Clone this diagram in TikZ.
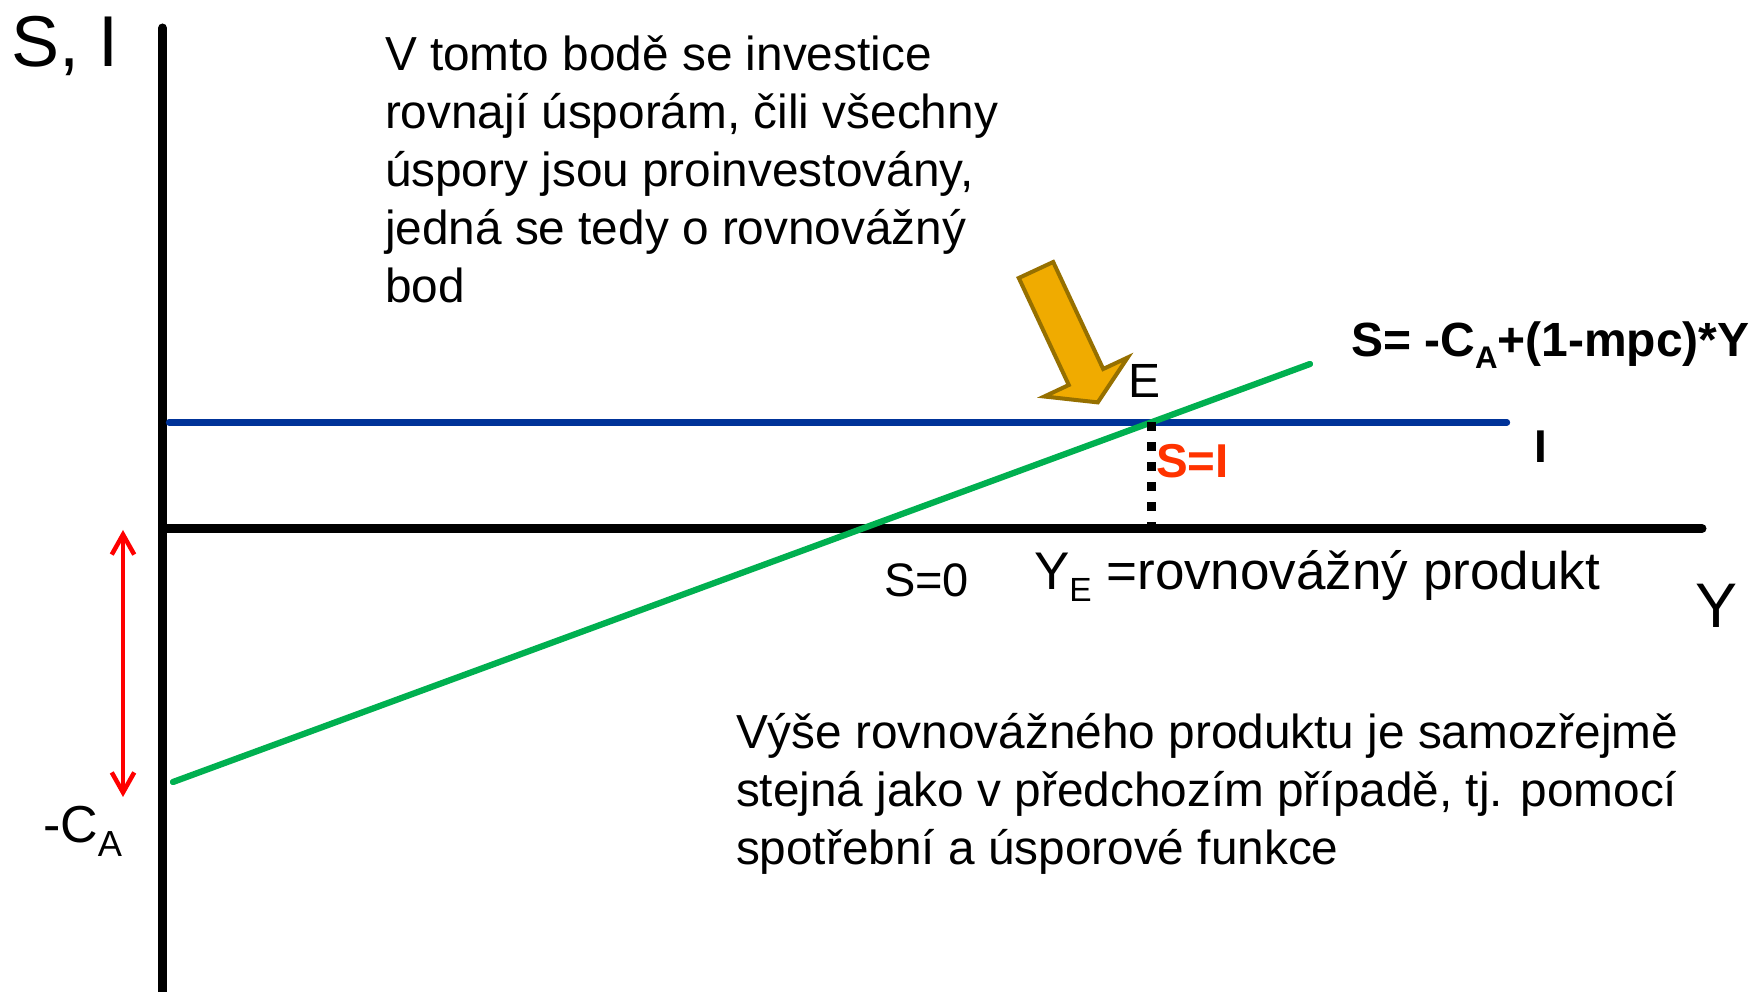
\documentclass[tikz,border=0pt]{standalone}
\usepackage{fontspec}
\setmainfont{Liberation Sans}
\usetikzlibrary{arrows.meta}
\definecolor{iblue}{RGB}{0,51,153}
\definecolor{sgreen}{RGB}{0,176,80}
\definecolor{cared}{RGB}{255,0,0}
\definecolor{sired}{RGB}{255,51,0}
\definecolor{arrfill}{RGB}{240,171,0}
\definecolor{arrdraw}{RGB}{150,112,0}
\newcommand{\fs}[2]{\fontsize{#1}{#2}\selectfont}
\newcommand{\lowsub}[3]{\raisebox{-#2}{\fs{#1}{#1}#3}}
\begin{document}
\begin{tikzpicture}[x=0.4pt,y=-0.4pt,
  lbl/.style={anchor=base west, inner sep=0pt, outer sep=0pt},
  axisline/.style={line width=3.6pt, line cap=round},
  curve/.style={line width=2.5pt, line cap=round}]
\fill[white] (0,0) rectangle (1756,992);
\useasboundingbox (0,0) rectangle (1756,992);

% coordinates
\coordinate (ytop) at (162.5,28);
\coordinate (ybot) at (162.5,1000);
\coordinate (xl) at (162.5,528.5);
\coordinate (xr) at (1702,528.5);
\coordinate (il) at (169,422.5);
\coordinate (ir) at (1507,422.5);
\coordinate (sl) at (173,782);
\coordinate (sr) at (1310,364);
\coordinate (E) at (1151.5,422.5);
\coordinate (YE) at (1151.5,528.5);
\coordinate (ca1) at (123,530);
\coordinate (ca2) at (123,797);

% axes
\draw[axisline] (ytop) -- (ybot);
\draw[axisline] (xl) -- (xr);

% lines
\draw[curve, iblue] (il) -- (ir);
\draw[curve, sgreen] (sl) -- (sr);
\draw[line width=3.6pt, dash pattern=on 3.6pt off 4.4pt] (E) -- (YE);

% red double arrow
\draw[cared, line width=1.8pt, {Straight Barb[length=8pt,width=9pt]}-{Straight Barb[length=8pt,width=9pt]}] (ca1) -- (ca2);

% yellow block arrow
\draw[fill=arrfill, draw=arrdraw, line width=1.6pt, line join=miter]
  (1018.8,278.0) -- (1053.2,262.0) -- (1103.2,369.0) -- (1127.7,357.5)
  -- (1097.8,402.4) -- (1044.3,396.5) -- (1068.8,385.0) -- cycle;

% labels
\node[lbl] (SI) at (11,67) {\fs{28.8}{30}S, I};
\node[lbl] (Y) at (1695,628) {\fs{25.2}{28}Y};
\node[lbl] (CA) at (43,843) {\fs{20.8}{24}-C\lowsub{14.5}{5.6pt}{A}};
\node[lbl] (Elbl) at (1128,398) {\fs{19.2}{22}E};
\node[lbl, text=sired] (SeqI) at (1156,478) {\fs{19}{22}\bfseries S=I};
\node[lbl] (Ilbl) at (1534,463) {\fs{18.4}{22}\bfseries I};
\node[lbl] (Sfun) at (1351,357) {\fs{19.2}{22}\bfseries S= -C\lowsub{12.5}{4.8pt}{\bfseries A}+(1-mpc)*Y};
\node[lbl] (S0) at (884,597) {\fs{18.8}{22}S=0};
\node[lbl] (YEl) at (1034,590) {\fs{21.2}{24}Y\lowsub{13.4}{4.8pt}{E} =rovnovážný produkt};

\node[lbl] (top) at (385,71) {\parbox[t]{700pt}{\fs{19.1}{23.2}%
V tomto bodě se investice\\
rovnají úsporám, čili všechny\\
úspory jsou proinvestovány,\\
jedná se tedy o rovnovážný\\
bod}};
\node[lbl] (bottom) at (736,749) {\parbox[t]{700pt}{\fs{19.1}{23.1}%
Výše rovnovážného produktu je samozřejmě\\
stejná jako v předchozím případě, tj. pomocí\\
spotřební a úsporové funkce}};
\end{tikzpicture}
\end{document}
